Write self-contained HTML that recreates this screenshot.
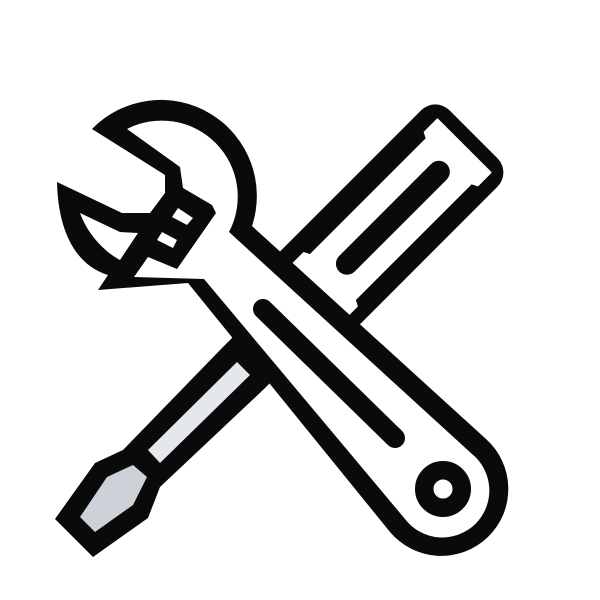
<!DOCTYPE html>
<html><head><meta charset="utf-8"><style>html,body{margin:0;padding:0;background:#fff;}svg{display:block;}</style></head>
<body>
<svg width="600" height="600" viewBox="0 0 600 600" xmlns="http://www.w3.org/2000/svg">
<!-- screwdriver shaft & tip -->
<polygon points="265,305 223,347 123,450 95,463 55,519 93,557 148,518 160,487 263,390 305,348" fill="#0a0a0a"/>
<polygon points="237,362 250,375 160,463 148,450" fill="#e4e7eb"/>
<polygon points="107,477 133,465 147,477 133,505 95,532 80,517" fill="#cdd1d8"/>
<!-- screwdriver handle -->
<g transform="translate(354,251) rotate(-45)">
  <rect x="-140" y="-52" width="307" height="108" rx="20" fill="#0a0a0a"/>
  <polygon points="152,-34 152,41 134,41 131,35 -34,35 -37,41 -54,41 -54,-34 -37,-34 -34,-28 131,-28 134,-34" fill="#fff" stroke="#fff" stroke-width="2" stroke-linejoin="round"/>
  <line x1="-14" y1="4" x2="116" y2="4" stroke="#0a0a0a" stroke-width="22" stroke-linecap="round"/>
</g>
<!-- wrench -->
<path d="M92,129 A96,96 0 0 1 252,226 L486,439 A67,67 0 1 1 390,532 L188,283 L98,290 L108,275 C75,265 58,230 57,182 L122,213 L150,213 L165,193 L165,175 Z" fill="#0a0a0a"/>
<path d="M127,129 A76,76 0 0 1 229,232 L472,454 A47,47 0 1 1 405,519 L204,279 L134,277 L148,257 L177,269 L216,213 L212,205 L183,188 L180,167 Z" fill="#fff"/>
<path d="M80,213 L120,232 L138,233 L120,260 C105,252 88,235 80,213 Z" fill="#fff"/>
<polygon points="178,208 193,218 187,225 172,217" fill="#fff"/>
<polygon points="162,232 177,240 173,248 157,240" fill="#fff"/>
<line x1="263" y1="309" x2="395" y2="438" stroke="#0a0a0a" stroke-width="20" stroke-linecap="round"/>
<circle cx="443" cy="489" r="18.75" fill="none" stroke="#0a0a0a" stroke-width="18.5"/>
</svg>
</body></html>
